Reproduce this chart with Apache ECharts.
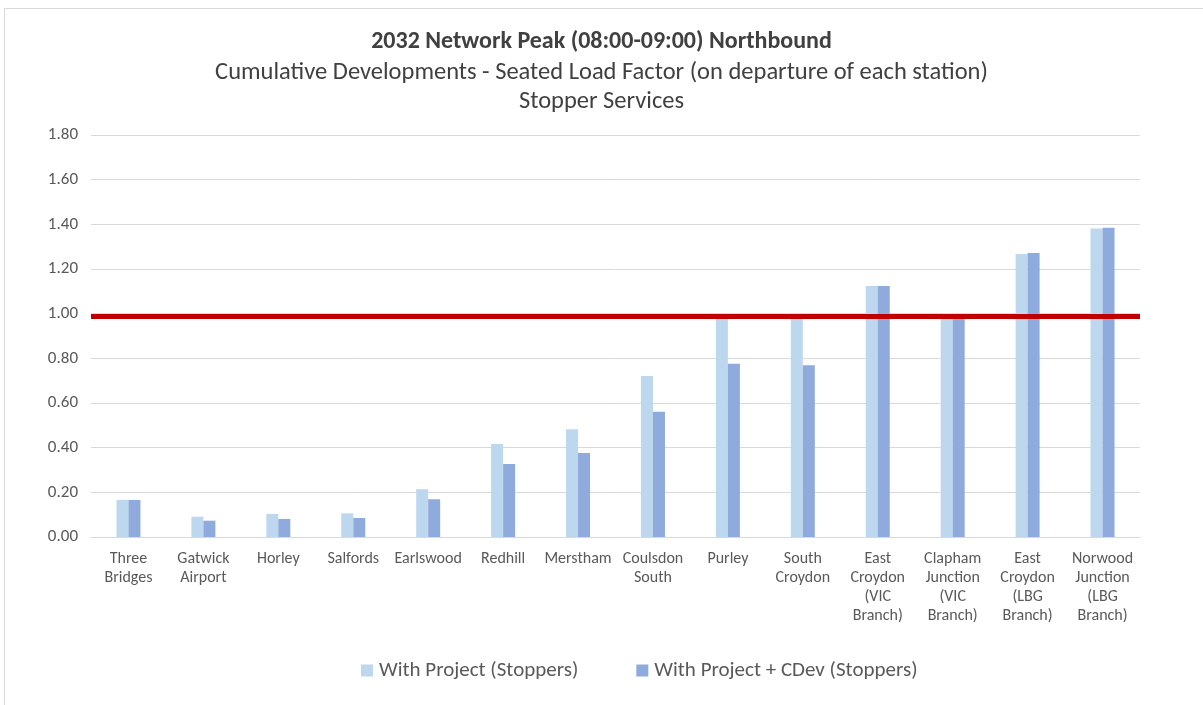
<!DOCTYPE html>
<html>
<head>
<meta charset="utf-8">
<script src="https://cdn.jsdelivr.net/npm/echarts@6/dist/echarts.min.js"></script>
<style>
  html, body { margin: 0; padding: 0; background: #fff; }
  #chart { width: 1203px; height: 705px; }
  #frame { position: absolute; left: 4px; top: 8px; width: 1210px; height: 710px; border: 1px solid #D9D9D9; pointer-events: none; }
</style>
</head>
<body>
<div id="chart"></div>
<div id="frame"></div>
<script>
// stations (northbound order)
const stations = [
  'Three\nBridges', 'Gatwick\nAirport', 'Horley', 'Salfords', 'Earlswood', 'Redhill', 'Merstham',
  'Coulsdon\nSouth', 'Purley', 'South\nCroydon', 'East\nCroydon\n(VIC\nBranch)',
  'Clapham\nJunction\n(VIC\nBranch)', 'East\nCroydon\n(LBG\nBranch)', 'Norwood\nJunction\n(LBG\nBranch)'
]
const withProject = [0.166, 0.091, 0.103, 0.106, 0.214, 0.416, 0.482, 0.721, 0.985, 0.985, 1.124, 0.985, 1.267, 1.381]
const withProjectCDev = [0.166, 0.073, 0.081, 0.085, 0.169, 0.327, 0.376, 0.561, 0.776, 0.769, 1.124, 0.985, 1.272, 1.385]
const yTicks = { min: 0, max: 1.8, interval: 0.2 }
const capacityLine = 0.99

const font = 'Carlito, "Liberation Sans Narrow", "Open Sans", sans-serif'
const chart = echarts.init(document.getElementById('chart'))
const option = {
  animation: false,
  textStyle: { fontFamily: font },
  title: {
    text: '2032 Network Peak (08:00-09:00) Northbound',
    subtext: 'Cumulative Developments - Seated Load Factor (on departure of each station)\nStopper Services',
    left: 'center',
    top: 25,
    itemGap: 4,
    textStyle: { fontFamily: font, fontSize: 24, fontWeight: 'bold', color: '#404040' },
    subtextStyle: { fontFamily: font, fontSize: 24.5, color: '#404040', lineHeight: 29 }
  },
  legend: {
    bottom: 19,
    left: 356,
    itemWidth: 12,
    itemHeight: 12,
    itemGap: 58,
    icon: 'rect',
    textStyle: { fontFamily: font, fontSize: 21, color: '#595959', padding: [0, 0, 0, 1] },
    data: ['With Project (Stoppers)', 'With Project + CDev (Stoppers)']
  },
  grid: { left: 91, right: 63, top: 135, bottom: 168 },
  xAxis: {
    type: 'category',
    data: stations,
    axisLine: { lineStyle: { color: '#D9D9D9' } },
    axisTick: { show: false },
    axisLabel: { interval: 0, color: '#595959', fontSize: 16, lineHeight: 19, margin: 12 }
  },
  yAxis: {
    type: 'value',
    min: yTicks.min,
    max: yTicks.max,
    interval: yTicks.interval,
    axisLine: { show: false },
    axisTick: { show: false },
    splitLine: { lineStyle: { color: '#D9D9D9', width: 1 } },
    axisLabel: { color: '#595959', fontSize: 17, margin: 13, formatter: v => v.toFixed(2) }
  },
  series: [
    {
      name: 'With Project (Stoppers)',
      type: 'bar',
      data: withProject,
      barWidth: 12,
      barGap: '0%',
      itemStyle: { color: '#BDD7EE' }
    },
    {
      name: 'With Project + CDev (Stoppers)',
      type: 'bar',
      data: withProjectCDev,
      barWidth: 12,
      itemStyle: { color: '#8FAADC' },
      markLine: {
        silent: true,
        symbol: 'none',
        label: { show: false },
        lineStyle: { color: '#C00000', width: 5, type: 'solid' },
        data: [{ yAxis: capacityLine }]
      }
    }
  ]
}
chart.setOption(option)
</script>
</body>
</html>
